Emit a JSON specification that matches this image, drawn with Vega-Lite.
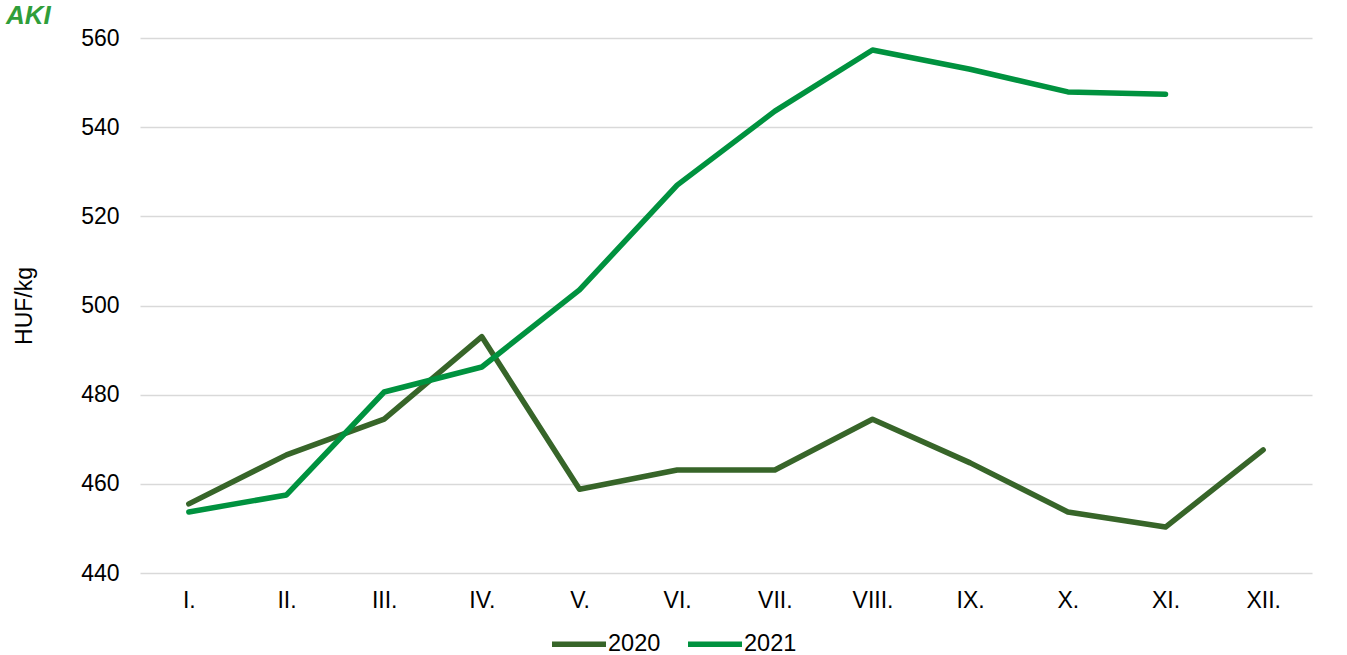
{
  "$schema": "https://vega.github.io/schema/vega-lite/v6.json",
  "width": 1172,
  "height": 535,
  "autosize": {"type": "none"},
  "padding": {"left": 140, "top": 38, "right": 35, "bottom": 82},
  "background": "white",
  "title": {
    "text": "AKI",
    "anchor": "start",
    "frame": "group",
    "dx": -134,
    "dy": 2,
    "color": "#2f9e3a",
    "font": "Liberation Sans",
    "fontSize": 26,
    "fontWeight": "bold",
    "fontStyle": "italic",
    "offset": 0
  },
  "data": {
    "values": [
      {"month": "I.", "year": "2020", "price": 455.5},
      {"month": "II.", "year": "2020", "price": 466.5},
      {"month": "III.", "year": "2020", "price": 474.5},
      {"month": "IV.", "year": "2020", "price": 493.0},
      {"month": "V.", "year": "2020", "price": 458.8},
      {"month": "VI.", "year": "2020", "price": 463.1},
      {"month": "VII.", "year": "2020", "price": 463.1},
      {"month": "VIII.", "year": "2020", "price": 474.5},
      {"month": "IX.", "year": "2020", "price": 464.7},
      {"month": "X.", "year": "2020", "price": 453.7},
      {"month": "XI.", "year": "2020", "price": 450.3},
      {"month": "XII.", "year": "2020", "price": 467.6},
      {"month": "I.", "year": "2021", "price": 453.7},
      {"month": "II.", "year": "2021", "price": 457.5},
      {"month": "III.", "year": "2021", "price": 480.6},
      {"month": "IV.", "year": "2021", "price": 486.2},
      {"month": "V.", "year": "2021", "price": 503.5},
      {"month": "VI.", "year": "2021", "price": 527.0},
      {"month": "VII.", "year": "2021", "price": 543.6},
      {"month": "VIII.", "year": "2021", "price": 557.3},
      {"month": "IX.", "year": "2021", "price": 553.0},
      {"month": "X.", "year": "2021", "price": 547.9},
      {"month": "XI.", "year": "2021", "price": 547.4}
    ]
  },
  "mark": {"type": "line", "strokeWidth": 5.5, "strokeCap": "round", "strokeJoin": "round"},
  "encoding": {
    "x": {
      "field": "month",
      "type": "ordinal",
      "sort": ["I.", "II.", "III.", "IV.", "V.", "VI.", "VII.", "VIII.", "IX.", "X.", "XI.", "XII."],
      "scale": {"type": "point", "padding": 0.5},
      "axis": {
        "title": null,
        "labelAngle": 0,
        "labelFont": "Liberation Sans",
        "labelFontSize": 23,
        "labelColor": "#000000",
        "labelPadding": 16,
        "ticks": false,
        "domain": false,
        "grid": false
      }
    },
    "y": {
      "field": "price",
      "type": "quantitative",
      "scale": {"domain": [440, 560], "nice": false, "zero": false},
      "axis": {
        "values": [440, 460, 480, 500, 520, 540, 560],
        "title": "HUF/kg",
        "titleFont": "Liberation Sans",
        "titleFontSize": 23,
        "titleFontWeight": "normal",
        "titleColor": "#000000",
        "titlePadding": 44,
        "labelFont": "Liberation Sans",
        "labelFontSize": 23,
        "labelColor": "#000000",
        "labelPadding": 21,
        "ticks": false,
        "domain": false,
        "grid": true,
        "gridColor": "#d9d9d9",
        "gridWidth": 1.3
      }
    },
    "color": {
      "field": "year",
      "type": "nominal",
      "scale": {"domain": ["2020", "2021"], "range": ["#376529", "#00923f"]},
      "legend": {
        "title": null,
        "orient": "none",
        "direction": "horizontal",
        "legendX": 409,
        "legendY": 576,
        "symbolType": "stroke",
        "symbolSize": 2916,
        "symbolStrokeWidth": 5.5,
        "labelFont": "Liberation Sans",
        "labelFontSize": 23.5,
        "labelColor": "#000000",
        "labelOffset": -1,
        "columnPadding": 16,
        "padding": 0
      }
    }
  },
  "config": {"view": {"stroke": null}}
}
